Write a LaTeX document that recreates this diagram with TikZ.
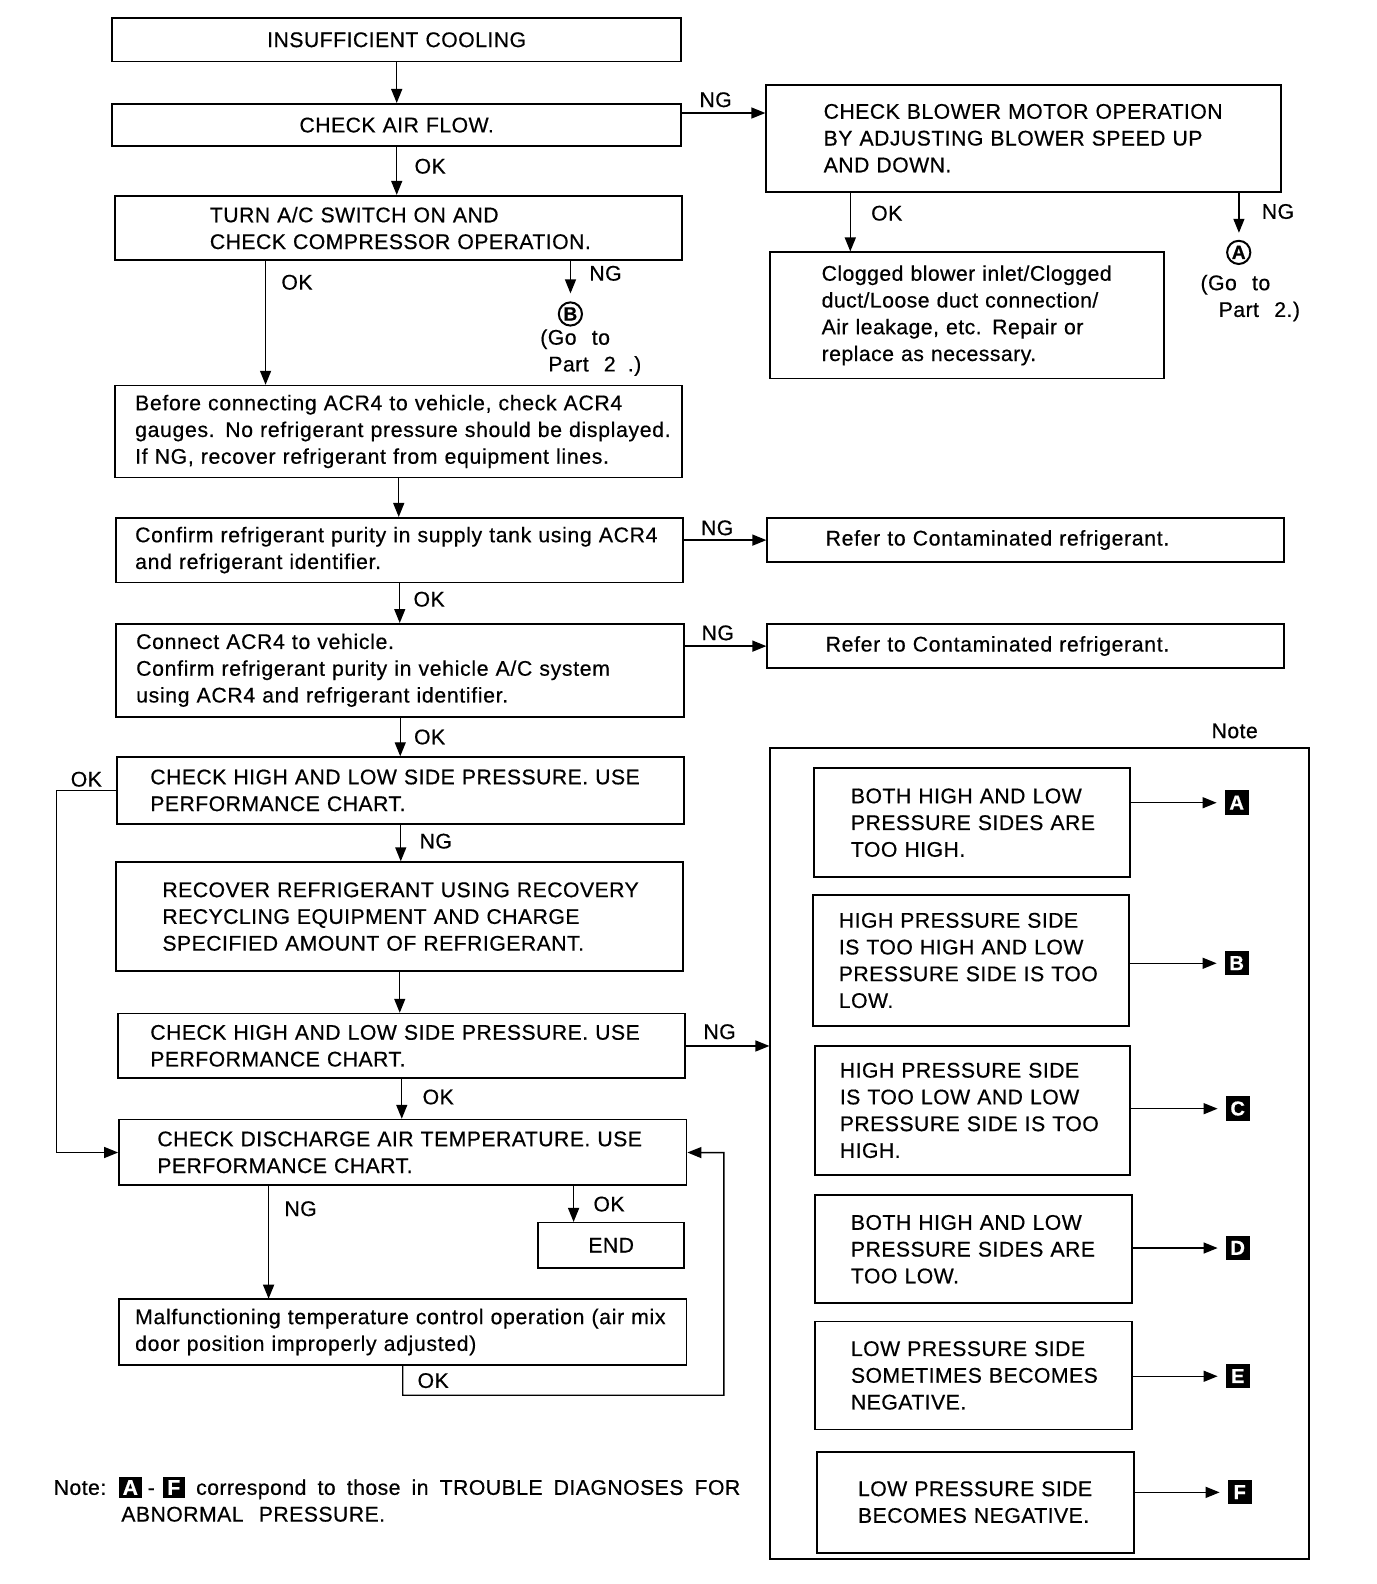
\documentclass[tikz,border=0pt]{standalone}
\usepackage{fontspec}
\setmainfont[WordSpace=2.4, LetterSpace=2.2, FakeBold=0.5]{Liberation Sans}
\newfontfamily\lcfont[WordSpace=2.4, LetterSpace=3.2, FakeBold=0.5]{Liberation Sans}
\usetikzlibrary{arrows.meta}

\newcommand{\sqlet}[1]{{\setlength{\fboxsep}{3pt}\colorbox{black}{\makebox[16pt]{\textcolor{white}{\textbf{#1}}}}}}

\tikzstyle{box} = [draw, line width=1.8pt, anchor=north west, align=left, inner xsep=3pt, inner ysep=0pt]
\tikzstyle{lc} = [font=\lcfont\fontsize{21}{26.5}\selectfont]
\tikzstyle{arr} = [line width=1.4pt, -{Triangle[length=14pt,width=11pt]}]
\tikzstyle{lbl} = [inner sep=2pt]
\tikzstyle{tag} = [fill=black, text=white, font=\fontsize{20}{20}\selectfont\bfseries, minimum width=24pt, minimum height=24pt, inner sep=0pt]
\tikzstyle{goto} = [circle, draw, line width=2pt, minimum size=23pt, inner sep=0pt, font=\fontsize{19}{19}\selectfont\bfseries]
\tikzset{lpad/.style={execute at begin node={\leftskip=#1\relax}}}

\begin{document}
\begin{tikzpicture}[x=1pt, y=-1pt, scale=1.0095, transform shape, font=\fontsize{21}{26.5}\selectfont]
\fill[white] (0,0) rectangle (1363,1569);
\useasboundingbox (0,0) rectangle (1363,1569);

% main column
\node[box, align=center, text width=558, minimum height=43] (ic) at (110,17) {INSUFFICIENT COOLING};
\node[box, align=center, text width=558, minimum height=42] (af) at (110,102) {CHECK AIR FLOW.};
\node[box, text width=556, minimum height=64, lpad=91pt] (ac) at (113,193)
    {TURN A/C SWITCH ON AND\\CHECK COMPRESSOR OPERATION.};
\node[box, lc, text width=556, minimum height=91, lpad=17pt] (bc) at (113,381)
    {Before connecting ACR4 to vehicle, check ACR4\\gauges. No refrigerant pressure should be displayed.\\If NG, recover refrigerant from equipment lines.};
\node[box, lc, text width=556, minimum height=64, lpad=16pt] (cs) at (114,512)
    {Confirm refrigerant purity in supply tank using ACR4\\and refrigerant identifier.};
\node[box, lc, text width=557, minimum height=92, lpad=17pt] (cv) at (114,617)
    {Connect ACR4 to vehicle.\\Confirm refrigerant purity in vehicle A/C system\\using ACR4 and refrigerant identifier.};
\node[box, text width=556, minimum height=66, lpad=30pt] (h1) at (115,749)
    {CHECK HIGH AND LOW SIDE PRESSURE. USE\\PERFORMANCE CHART.};
\node[box, text width=556, minimum height=108, lpad=43pt] (rr) at (114,853)
    {RECOVER REFRIGERANT USING RECOVERY\\RECYCLING EQUIPMENT AND CHARGE\\SPECIFIED AMOUNT OF REFRIGERANT.};
\node[box, text width=556, minimum height=64, lpad=29pt] (h2) at (116,1003)
    {CHECK HIGH AND LOW SIDE PRESSURE. USE\\PERFORMANCE CHART.};
\node[box, text width=556, minimum height=65, lpad=35pt] (dt) at (117,1108)
    {CHECK DISCHARGE AIR TEMPERATURE. USE\\PERFORMANCE CHART.};
\node[box, align=center, text width=139, minimum height=45] (en) at (532,1210) {END};
\node[box, lc, text width=556, minimum height=65, lpad=13pt] (mf) at (117,1286)
    {Malfunctioning temperature control operation (air mix\\door position improperly adjusted)};

% right column
\node[box, text width=504, minimum height=106, lpad=54pt] (bm) at (758,83)
    {CHECK BLOWER MOTOR OPERATION\\BY ADJUSTING BLOWER SPEED UP\\AND DOWN.};
\node[box, text width=384, minimum height=125, lpad=48pt] (cl) at (762,249)
    {Clogged blower inlet/Clogged\\duct/Loose duct connection/\\Air leakage, etc. Repair or\\replace as necessary.};
\node[box, lc, text width=506, minimum height=44, lpad=55pt] (rc1) at (759,512) {Refer to Contaminated refrigerant.};
\node[box, lc, text width=506, minimum height=44, lpad=55pt] (rc2) at (759,617) {Refer to Contaminated refrigerant.};

\node[goto] (gB) at (565,311) {B};
\node[lbl, inner sep=0pt, anchor=north west, align=left] (gBt) at (535,326) {(Go to\\\hspace*{8pt}Part 2\hspace{12pt}.)};
\node[goto] (gA) at (1227,250) {A};
\node[lbl, inner sep=0pt, anchor=north west, align=left] (gAt) at (1189,272) {(Go to\\\hspace*{18pt}Part 2.)};

% note panel
\node[lbl] (nt) at (1223,724) {Note};
\node[draw, line width=1.8pt, anchor=north west, inner sep=0pt, minimum width=534, minimum height=803] (big) at (762,740) {};
\node[box, text width=307, minimum height=108, lpad=34pt] (nA) at (805,760)
    {BOTH HIGH AND LOW\\PRESSURE SIDES ARE\\TOO HIGH.};
\node[box, text width=307, minimum height=129, lpad=23pt] (nB) at (804,886)
    {HIGH PRESSURE SIDE\\IS TOO HIGH AND LOW\\PRESSURE SIDE IS TOO\\LOW.};
\node[box, text width=306, minimum height=128, lpad=22pt] (nC) at (806,1035)
    {HIGH PRESSURE SIDE\\IS TOO LOW AND LOW\\PRESSURE SIDE IS TOO\\HIGH.};
\node[box, text width=308, minimum height=107, lpad=33pt] (nD) at (806,1183)
    {BOTH HIGH AND LOW\\PRESSURE SIDES ARE\\TOO LOW.};
\node[box, text width=308, minimum height=107, lpad=33pt] (nE) at (806,1308)
    {LOW PRESSURE SIDE\\SOMETIMES BECOMES\\NEGATIVE.};
\node[box, text width=308, minimum height=100, lpad=38pt] (nF) at (808,1437)
    {LOW PRESSURE SIDE\\BECOMES NEGATIVE.};

\node[tag] (tA) at (1225,795) {A};
\node[tag] (tB) at (1225,954) {B};
\node[tag] (tC) at (1226,1098) {C};
\node[tag] (tD) at (1226,1236) {D};
\node[tag] (tE) at (1226,1363) {E};
\node[tag] (tF) at (1228,1478) {F};

\node[lbl, inner sep=0pt, anchor=north west, align=left] (foot) at (53,1463)
    {\spaceskip=11pt Note: \sqlet{A}\hspace{6pt}-\hspace{8pt}\sqlet{F} correspond to those in TROUBLE DIAGNOSES FOR\\\hspace*{67pt}ABNORMAL PRESSURE.};

% connectors
\coordinate (afng) at ([yshift=12pt]af.east);
\coordinate (clin) at ([xshift=80pt]cl.north west);
\coordinate (bcin) at ([xshift=150pt]bc.north west);
\coordinate (mfin) at ([xshift=149pt]mf.north west);
\coordinate (enin) at ([xshift=36pt]en.north west);
\coordinate (ret) at ([xshift=36pt]dt.east);

\draw[arr] (ic.south) -- (af.north);
\draw[arr] (af.south) -- node[lbl, right=15pt, pos=0.4] (ok1) {OK} (af.south |- ac.north);
\draw[arr] (afng) -- node[lbl, above=3pt, pos=0.4] (ng1) {NG} (afng -| bm.west);
\draw[arr] (clin |- bm.south) -- node[lbl, right=18pt, pos=0.35] (ok2) {OK} (clin);
\draw[arr, shorten >=7pt] (gA.north |- bm.south) -- node[lbl, right=20pt, pos=0.4] (ng2) {NG} (gA.north);
\draw[arr] (bcin |- ac.south) -- node[lbl, right=13pt, pos=0.17] (ok3) {OK} (bcin);
\draw[arr, shorten >=8pt] (gB.north |- ac.south) -- node[lbl, right=16pt, pos=0.3] (ng3) {NG} (gB.north);
\draw[arr] (bc.south) -- (bc.south |- cs.north);
\draw[arr] (rc1.west -| cs.east) -- node[lbl, above=2pt, pos=0.4] (ng4) {NG} (rc1.west);
\draw[arr] (cs.south) -- node[lbl, right=11pt, pos=0.4] (ok4) {OK} (cs.south |- cv.north);
\draw[arr] (rc2.west -| cv.east) -- node[lbl, above=3pt, pos=0.4] (ng5) {NG} (rc2.west);
\draw[arr] (cv.south) -- node[lbl, right=11pt, pos=0.5] (ok5) {OK} (cv.south |- h1.north);
\draw[arr] (h1.south) -- node[lbl, right=16pt, pos=0.45] (ng6) {NG} (h1.south |- rr.north);
\draw[arr] (h1.west) -- node[lbl, above=1pt] (ok6) {OK} ++(-59,0) |- (dt.west);
\draw[arr] (rr.south) -- (rr.south |- h2.north);
\draw[arr] (h2.east) -- node[lbl, above=4pt, pos=0.4] (ng7) {NG} (h2.east -| big.west);
\draw[arr] (h2.south) -- node[lbl, right=18pt, pos=0.45] (ok7) {OK} (h2.south |- dt.north);
\draw[arr] (mfin |- dt.south) -- node[lbl, right=13pt, pos=0.2] (ng8) {NG} (mfin);
\draw[arr] (enin |- dt.south) -- node[lbl, right=17pt, pos=0.5] (ok8) {OK} (enin);
\draw[arr] (mf.south) -- node[lbl, right=12pt] (ok9) {OK} ++(0,29) -| (ret) -- (dt.east);

\draw[arr, shorten >=8pt] (nA.east |- tA) -- (tA.west);
\draw[arr, shorten >=8pt] (nB.east |- tB) -- (tB.west);
\draw[arr, shorten >=8pt] (nC.east |- tC) -- (tC.west);
\draw[arr, shorten >=8pt] (nD.east |- tD) -- (tD.west);
\draw[arr, shorten >=8pt] (nE.east |- tE) -- (tE.west);
\draw[arr, shorten >=8pt] (nF.east |- tF) -- (tF.west);
\end{tikzpicture}
\end{document}
